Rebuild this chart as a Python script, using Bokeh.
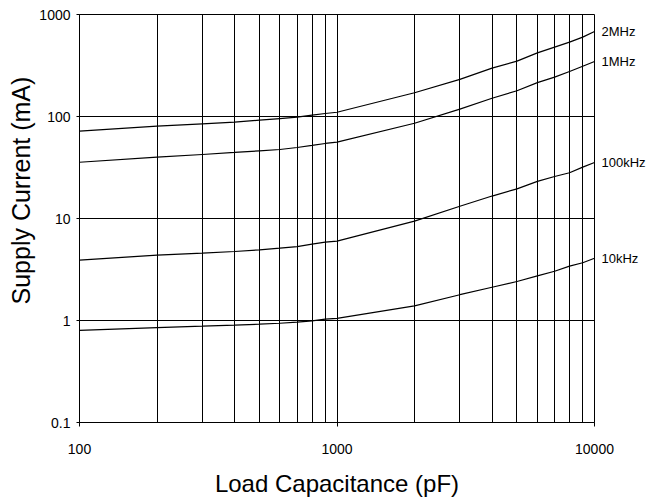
from bokeh.plotting import figure
from bokeh.models import FixedTicker, LogAxis, Title
from bokeh.embed import file_html
from bokeh.resources import INLINE

# Load capacitance (pF)
cap = [100, 200, 300, 400, 500, 600, 700, 800, 900, 1000,
       2000, 3000, 4000, 5000, 6000, 7000, 8000, 9000, 10000]
# Supply current (mA) per frequency
i_2mhz = [71.8, 80.4, 84.7, 87.9, 92, 95.5, 98.4, 103, 107, 110,
          171, 231, 298, 349, 421, 479, 536, 600, 681]
i_1mhz = [35.6, 39.9, 42.4, 44.4, 46.1, 47.5, 49.7, 52, 54.4, 56,
          85.9, 118, 151, 179, 215, 243, 276, 311, 346]
i_100khz = [3.90, 4.37, 4.57, 4.75, 4.93, 5.12, 5.31, 5.60, 5.86, 5.99,
            9.41, 13.2, 16.6, 19.5, 23.1, 25.8, 28.1, 31.9, 35.4]
i_10khz = [0.80, 0.853, 0.879, 0.90, 0.92, 0.94, 0.962, 0.993, 1.03, 1.05,
           1.39, 1.79, 2.12, 2.41, 2.74, 3.04, 3.41, 3.68, 4.08]

series_names = ["2MHz", "1MHz", "100kHz", "10kHz"]
series_values = [i_2mhz, i_1mhz, i_100khz, i_10khz]

x_major = [100, 1000, 10000]
x_major_labels = ["100", "1000", "10000"]
x_minor = [200, 300, 400, 500, 600, 700, 800, 900,
           2000, 3000, 4000, 5000, 6000, 7000, 8000, 9000]
y_major = [0.1, 1, 10, 100, 1000]
y_major_labels = ["0.1", "1", "10", "100", "1000"]

FONT = "Liberation Sans"

p = figure(width=649, height=499, x_axis_type="log", y_axis_type="log",
           x_range=(100, 10000), y_range=(0.1, 1000),
           output_backend="svg", toolbar_location=None,
           min_border_left=79, min_border_top=14, min_border_right=55,
           min_border_bottom=77)
p.background_fill_color = "white"
p.border_fill_color = "white"
p.outline_line_color = "black"
p.outline_line_width = 1

p.xaxis.ticker = FixedTicker(ticks=x_major, minor_ticks=x_minor)
p.yaxis.ticker = FixedTicker(ticks=y_major)
p.xaxis.major_label_overrides = {v: l for v, l in zip(x_major, x_major_labels)}
p.yaxis.major_label_overrides = {v: l for v, l in zip(y_major, y_major_labels)}

for ax in (p.xaxis, p.yaxis):
    ax.axis_line_color = "black"
    ax.major_tick_line_color = "black"
    ax.minor_tick_line_color = None
    ax.major_tick_in = 0
    ax.major_label_text_font = FONT
    ax.major_label_text_font_size = "14px"
    ax.major_label_text_color = "black"
    ax.axis_label_text_font = FONT
    ax.axis_label_text_font_size = "24px"
    ax.axis_label_text_font_style = "normal"
    ax.axis_label_text_color = "black"

p.xaxis.major_tick_out = 4
p.yaxis.major_tick_out = 3
p.xaxis.major_label_standoff = 17
p.yaxis.major_label_standoff = 6
p.xaxis.axis_label = "Load Capacitance (pF)"
p.xaxis.axis_label_standoff = 13

# y-axis title, anchored from the frame bottom so it sits above centre
ytitle = Title(text="Supply Current (mA)", align="left", offset=118,
               standoff=3, text_font=FONT, text_font_size="25px",
               text_font_style="normal", text_color="black")
p.add_layout(ytitle, "left")

p.xgrid.grid_line_color = "black"
p.xgrid.grid_line_width = 1
p.xgrid.minor_grid_line_color = "black"
p.xgrid.minor_grid_line_width = 1
p.ygrid.grid_line_color = "black"
p.ygrid.grid_line_width = 1

for vals in series_values:
    p.line(cap, vals, line_color="black", line_width=1.2)

# series names on the right, at each curve's last value
end_vals = [v[-1] for v in series_values]
right = LogAxis(ticker=FixedTicker(ticks=end_vals),
                major_label_overrides={v: n for v, n in zip(end_vals, series_names)},
                axis_line_color=None, major_tick_line_color=None,
                minor_tick_line_color=None, major_tick_out=0, major_tick_in=0,
                major_label_standoff=7,
                major_label_text_font=FONT, major_label_text_font_size="13px",
                major_label_text_color="black")
p.add_layout(right, "right")

open("out.html", "w").write(file_html(p, INLINE))
